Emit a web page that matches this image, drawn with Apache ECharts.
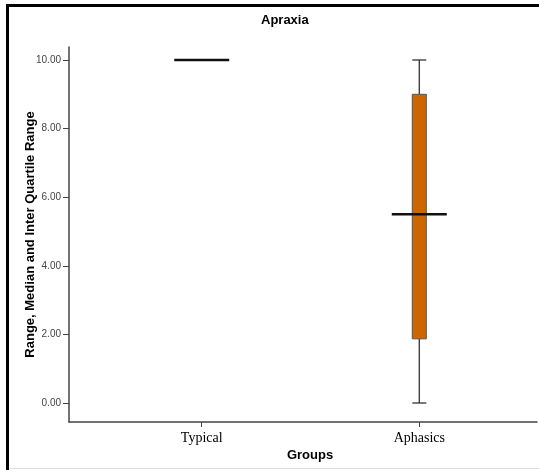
<!DOCTYPE html>
<html>
<head>
<meta charset="utf-8">
<script src="https://cdn.jsdelivr.net/npm/echarts@6/dist/echarts.min.js"></script>
<style>html,body{margin:0;padding:0;background:#fff;}#c{width:539px;height:470px;}</style>
</head>
<body>
<div id="c"></div>
<script>
const categories = ['Typical', 'Aphasics'];
const positions = [1, 2];
const minValues = [10, 0];
const q1Values = [10, 1.87];
const medianValues = [10, 5.5];
const q3Values = [10, 9];
const maxValues = [10, 10];
const yTicks = [0, 2, 4, 6, 8, 10];

const data = categories.map((c, i) => [positions[i], minValues[i], q1Values[i], medianValues[i], q3Values[i], maxValues[i]]);

const chart = echarts.init(document.getElementById('c'));
chart.setOption({
  animation: false,
  backgroundColor: '#fff',
  title: {
    text: 'Apraxia', left: 256, top: 9,
    textStyle: { fontFamily: 'Liberation Sans, Arial', fontSize: 13, fontWeight: 'bold', color: '#000' }
  },
  grid: { left: 69, top: 47, right: 2, bottom: 48, containLabel: false },
  xAxis: {
    type: 'value', min: 0.39, max: 2.541,
    name: 'Groups', nameLocation: 'middle', nameGap: 27, nameMoveOverlap: false,
    nameTextStyle: { fontFamily: 'Liberation Sans, Arial', fontSize: 13, fontWeight: 'bold', color: '#000', padding: [0, 0, 0, 14] },
    splitLine: { show: false },
    axisLine: { show: true, onZero: false, lineStyle: { color: '#444', width: 1.5 } },
    axisTick: { show: true, customValues: positions, length: 5, lineStyle: { color: '#444' } },
    axisLabel: {
      customValues: positions, margin: 9,
      formatter: v => categories[positions.indexOf(v)] || '',
      fontFamily: 'Liberation Serif, Times New Roman', fontSize: 14, color: '#000'
    }
  },
  yAxis: {
    type: 'value', min: -0.554, max: 10.379,
    name: 'Range, Median and Inter Quartile Range', nameLocation: 'middle', nameGap: 32, nameMoveOverlap: false,
    nameTextStyle: { fontFamily: 'Liberation Sans, Arial', fontSize: 13, fontWeight: 'bold', color: '#000' },
    splitLine: { show: false },
    axisLine: { show: true, onZero: false, lineStyle: { color: '#444', width: 1.5 } },
    axisTick: { show: true, customValues: yTicks, length: 6, lineStyle: { color: '#444' } },
    axisLabel: {
      customValues: yTicks, margin: 8,
      formatter: v => v.toFixed(2),
      fontFamily: 'Liberation Sans, Arial', fontSize: 10, color: '#444'
    }
  },
  series: [{
    type: 'custom',
    data: data,
    encode: { x: 0, y: [1, 2, 3, 4, 5] },
    renderItem: function (params, api) {
      const x = api.value(0);
      const pMin = api.coord([x, api.value(1)]);
      const pQ1 = api.coord([x, api.value(2)]);
      const pMed = api.coord([x, api.value(3)]);
      const pQ3 = api.coord([x, api.value(4)]);
      const pMax = api.coord([x, api.value(5)]);
      const cx = pMed[0];
      const bw = 14, mw = 55;
      const children = [];
      const wl = { stroke: '#333', lineWidth: 1.3 };
      if (pMin[1] !== pMax[1]) {
        children.push({ type: 'line', shape: { x1: cx, y1: pMax[1], x2: cx, y2: pQ3[1] }, style: wl });
        children.push({ type: 'line', shape: { x1: cx, y1: pQ1[1], x2: cx, y2: pMin[1] }, style: wl });
        children.push({ type: 'line', shape: { x1: cx - bw / 2, y1: pMax[1], x2: cx + bw / 2, y2: pMax[1] }, style: wl });
        children.push({ type: 'line', shape: { x1: cx - bw / 2, y1: pMin[1], x2: cx + bw / 2, y2: pMin[1] }, style: wl });
      }
      if (pQ1[1] !== pQ3[1]) {
        children.push({ type: 'rect', shape: { x: cx - bw / 2, y: pQ3[1], width: bw, height: pQ1[1] - pQ3[1] },
          style: { fill: '#CC6600', stroke: '#555', lineWidth: 1 } });
      }
      children.push({ type: 'line', shape: { x1: cx - mw / 2, y1: pMed[1], x2: cx + mw / 2, y2: pMed[1] },
        style: { stroke: '#111', lineWidth: 2.5 } });
      return { type: 'group', children: children };
    }
  }],
  graphic: [
    { type: 'rect', shape: { x: 6, y: 4, width: 533, height: 3 }, style: { fill: '#000' }, z: 100 },
    { type: 'rect', shape: { x: 6, y: 4, width: 3, height: 466 }, style: { fill: '#000' }, z: 100 },
    { type: 'rect', shape: { x: 9, y: 468, width: 530, height: 1 }, style: { fill: '#ddd' }, z: 100 }
  ]
});
</script>
</body>
</html>
